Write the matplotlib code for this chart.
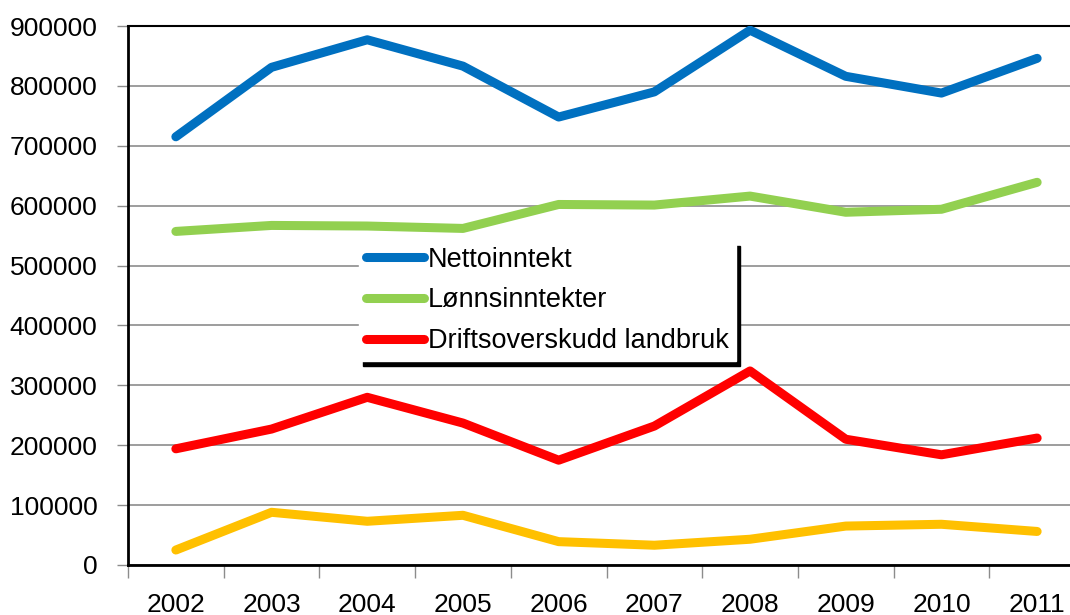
import numpy as np
import matplotlib
matplotlib.use("Agg")
import matplotlib.pyplot as plt

years = ['2002', '2003', '2004', '2005', '2006', '2007', '2008', '2009', '2010', '2011']
nettoinntekt = [715000, 831000, 877000, 833000, 748000, 790000, 893000, 816000, 788000, 846000]
lonnsinntekter = [557000, 567000, 566000, 562000, 602000, 601000, 616000, 589000, 594000, 639000]
driftsoverskudd = [194000, 227000, 280000, 237000, 175000, 232000, 324000, 210000, 184000, 212000]
annet = [25000, 88000, 73000, 83000, 39000, 33000, 43000, 65000, 68000, 56000]

plt.rcParams['font.family'] = ['Liberation Sans', 'DejaVu Sans']

fig = plt.figure(figsize=(10.7, 6.15), dpi=100)
ax = fig.add_axes([128 / 1070, 50 / 615, 957 / 1070, 539 / 615])

x = np.arange(len(years))
lw = 6.5
ax.plot(x, nettoinntekt, color='#0070C0', lw=lw, solid_capstyle='round', label='Nettoinntekt', zorder=3)
ax.plot(x, lonnsinntekter, color='#92D050', lw=lw, solid_capstyle='round', label='Lønnsinntekter', zorder=3)
ax.plot(x, driftsoverskudd, color='#FF0000', lw=lw, solid_capstyle='round', label='Driftsoverskudd landbruk', zorder=3)
ax.plot(x, annet, color='#FFC000', lw=lw, solid_capstyle='round', label='_nolegend_', zorder=3)

ax.set_xlim(-0.5, len(years) - 0.5)
ax.set_ylim(0, 900000)

# y axis
ax.set_yticks(np.arange(0, 900001, 100000))
ax.set_yticklabels([str(v) for v in range(0, 900001, 100000)])
ax.yaxis.grid(True, color='#8c8c8c', lw=1.2)
ax.set_axisbelow(True)
ax.tick_params(axis='y', length=8, width=1, color='#8c8c8c', labelsize=19, pad=14)

# x axis: ticks between categories, labels in the middle
ax.set_xticks(np.arange(-0.5, len(years), 1))
ax.set_xticklabels([])
ax.set_xticks(x, minor=True)
ax.set_xticklabels(years, minor=True)
ax.tick_params(axis='x', which='major', length=9, width=1, color='#8c8c8c')
ax.tick_params(axis='x', which='minor', length=0, labelsize=19, pad=20)

for side in ['left', 'bottom']:
    ax.spines[side].set_linewidth(2)
    ax.spines[side].set_color('black')
ax.spines['top'].set_linewidth(1.5)
ax.spines['right'].set_visible(False)

leg = ax.legend(loc='upper left', bbox_to_anchor=(359 / 1070, 1 - 240 / 615),
                bbox_transform=fig.transFigure, borderaxespad=0, fontsize=19.5,
                handlelength=2.15, handletextpad=0.15, labelspacing=0.54, borderpad=0.25,
                fancybox=False, framealpha=1, edgecolor='white',
                shadow={'color': 'black', 'alpha': 1, 'ox': 3, 'oy': -4})
for line in leg.get_lines():
    line.set_solid_capstyle('round')

fig.savefig('out.png', dpi=100)
